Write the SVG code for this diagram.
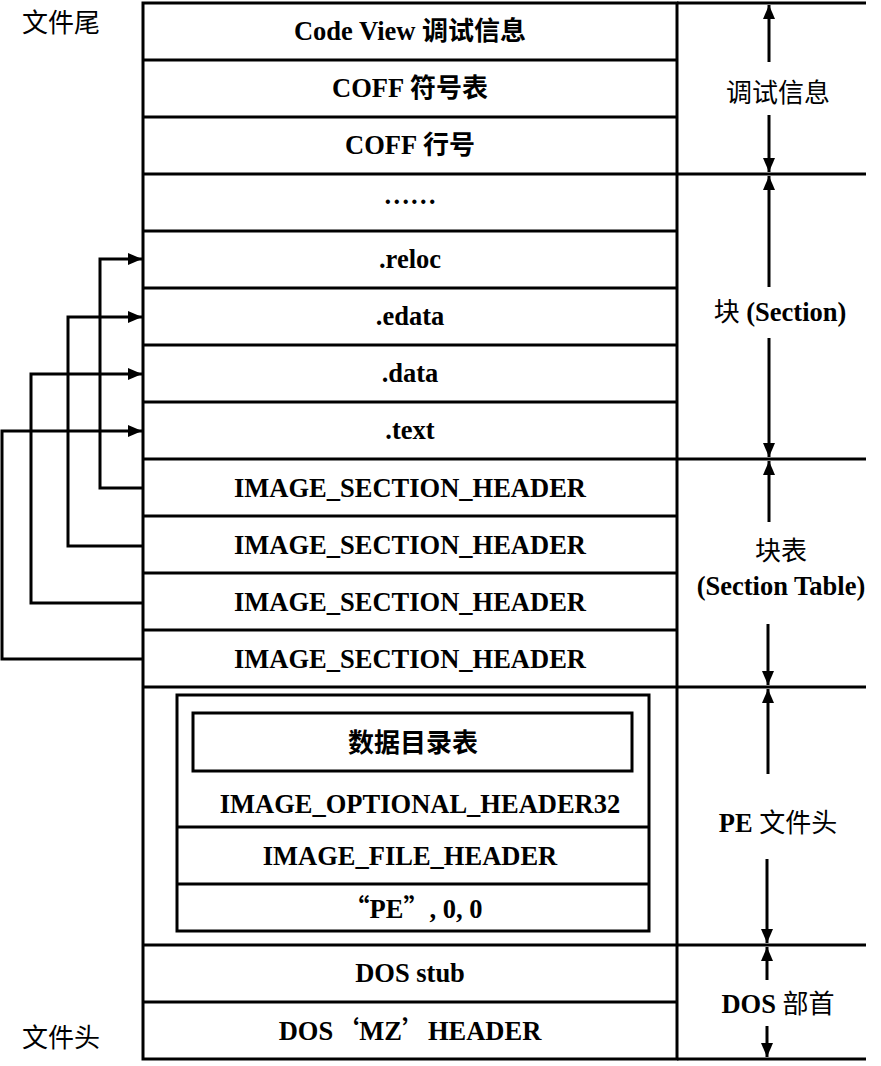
<svg xmlns="http://www.w3.org/2000/svg" width="881" height="1066" viewBox="0 0 881 1066">
<defs>
<marker id="ah" viewBox="0 0 14 12" refX="14" refY="6" markerWidth="14" markerHeight="12" markerUnits="userSpaceOnUse" orient="auto">
<path d="M0,0 L14,6 L0,12 Z" fill="#000"/>
</marker>
</defs>
<style>
.ln{stroke:#000;stroke-width:3;fill:none}
.bx{stroke:#000;stroke-width:3;fill:none}
.ar{stroke:#000;stroke-width:3;fill:none;marker-end:url(#ah)}
text{font-family:"Liberation Serif","Noto Sans CJK SC",serif;font-size:26.5px;font-weight:bold;fill:#000;text-anchor:middle}
.cn{font-family:"Noto Sans CJK SC","Liberation Serif",sans-serif;font-weight:normal;font-size:26px}
.cb{font-family:"Noto Sans CJK SC","Liberation Serif",sans-serif;font-weight:bold;font-size:26px}
</style>
<rect width="881" height="1066" fill="#fff"/>

<g id="labels-left">
<text x="61" y="32" class="cn">文件尾</text>
<text x="61" y="1047" class="cn">文件头</text>
</g>

<g id="main-frame">
<rect class="bx" x="143" y="3" width="534" height="1056"/>
<line class="ln" x1="677" y1="3" x2="866" y2="3"/>
<line class="ln" x1="677" y1="174" x2="866" y2="174"/>
<line class="ln" x1="677" y1="459" x2="866" y2="459"/>
<line class="ln" x1="677" y1="687" x2="866" y2="687"/>
<line class="ln" x1="677" y1="945" x2="866" y2="945"/>
<line class="ln" x1="677" y1="1059" x2="866" y2="1059"/>
</g>

<g id="row-codeview"><line class="ln" x1="143" y1="60" x2="677" y2="60"/><text x="410" y="40">Code View <tspan class="cb">调试信息</tspan></text></g>
<g id="row-coff-sym"><line class="ln" x1="143" y1="117" x2="677" y2="117"/><text x="410" y="97">COFF <tspan class="cb">符号表</tspan></text></g>
<g id="row-coff-line"><line class="ln" x1="143" y1="174" x2="677" y2="174"/><text x="410" y="154">COFF <tspan class="cb">行号</tspan></text></g>
<g id="row-dots"><line class="ln" x1="143" y1="231" x2="677" y2="231"/><text x="410" y="204">……</text></g>
<g id="row-reloc"><line class="ln" x1="143" y1="288" x2="677" y2="288"/><text x="410" y="268">.reloc</text></g>
<g id="row-edata"><line class="ln" x1="143" y1="345" x2="677" y2="345"/><text x="410" y="325">.edata</text></g>
<g id="row-data"><line class="ln" x1="143" y1="402" x2="677" y2="402"/><text x="410" y="382">.data</text></g>
<g id="row-text"><line class="ln" x1="143" y1="459" x2="677" y2="459"/><text x="410" y="439">.text</text></g>
<g id="row-sh1"><line class="ln" x1="143" y1="516" x2="677" y2="516"/><text x="410" y="497">IMAGE_SECTION_HEADER</text></g>
<g id="row-sh2"><line class="ln" x1="143" y1="573" x2="677" y2="573"/><text x="410" y="554">IMAGE_SECTION_HEADER</text></g>
<g id="row-sh3"><line class="ln" x1="143" y1="630" x2="677" y2="630"/><text x="410" y="611">IMAGE_SECTION_HEADER</text></g>
<g id="row-sh4"><line class="ln" x1="143" y1="687" x2="677" y2="687"/><text x="410" y="668">IMAGE_SECTION_HEADER</text></g>

<g id="pe-header">
<rect class="bx" x="177" y="695" width="472" height="236"/>
<rect class="bx" x="193" y="713" width="439" height="58"/>
<text x="413" y="752" class="cb">数据目录表</text>
<text x="420" y="813">IMAGE_OPTIONAL_HEADER32</text>
<line class="ln" x1="177" y1="827" x2="649" y2="827"/>
<text x="410" y="865">IMAGE_FILE_HEADER</text>
<line class="ln" x1="177" y1="884" x2="649" y2="884"/>
<text x="413" y="918"><tspan class="cb">“</tspan>PE<tspan class="cb">”</tspan>, 0, 0</text>
</g>

<g id="row-dosstub"><line class="ln" x1="143" y1="945" x2="677" y2="945"/><text x="410" y="982">DOS stub</text></g>
<g id="row-mz"><line class="ln" x1="143" y1="1002" x2="677" y2="1002"/><text x="410" y="1040">DOS<tspan class="cb">‘</tspan>MZ<tspan class="cb">’</tspan>HEADER</text></g>

<g id="labels-right">
<text x="778" y="102" class="cn">调试信息</text>
<text x="780" y="321"><tspan class="cn">块</tspan> (Section)</text>
<text x="781" y="560" class="cn">块表</text>
<text x="781" y="595">(Section Table)</text>
<text x="778" y="832">PE <tspan class="cn">文件头</tspan></text>
<text x="778" y="1013">DOS <tspan class="cn">部首</tspan></text>
</g>

<g id="connectors">
<line class="ar" x1="769" y1="62" x2="769" y2="5"/>
<line class="ar" x1="769" y1="115" x2="769" y2="172"/>
<line class="ar" x1="769" y1="287" x2="769" y2="176"/>
<line class="ar" x1="769" y1="338" x2="769" y2="457"/>
<line class="ar" x1="769" y1="522" x2="769" y2="461"/>
<line class="ar" x1="768" y1="624" x2="768" y2="685"/>
<line class="ar" x1="768" y1="774" x2="768" y2="689"/>
<line class="ar" x1="767" y1="859" x2="767" y2="943"/>
<line class="ar" x1="767" y1="980" x2="767" y2="947"/>
<line class="ar" x1="767" y1="1026" x2="767" y2="1057"/>
<path class="ar" d="M143,488 H100 V259 H142"/>
<path class="ar" d="M143,546 H68 V317 H142"/>
<path class="ar" d="M143,603 H31 V374 H142"/>
<path class="ar" d="M143,659 H2 V431 H142"/>
</g>
</svg>
